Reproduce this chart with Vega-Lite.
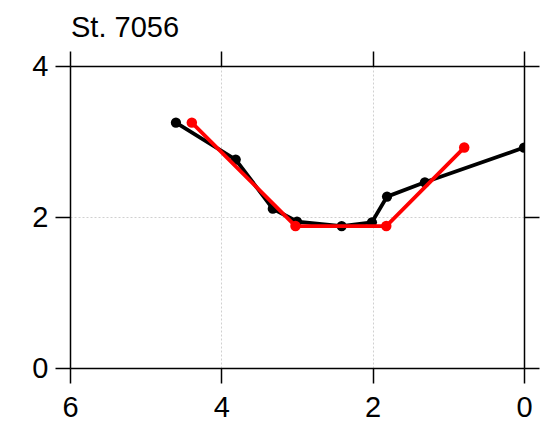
{
  "$schema": "https://vega.github.io/schema/vega-lite/v6.json",
  "autosize": "none",
  "width": 454,
  "height": 302,
  "padding": {"left": 70, "top": 66, "right": 26, "bottom": 57},
  "background": "white",
  "title": {"text": "St. 7056", "anchor": "start", "frame": "group", "font": "Liberation Sans", "fontSize": 29, "fontWeight": "normal", "color": "black", "offset": 7, "dx": 1},
  "config": {
    "view": {"stroke": null},
    "axis": {
      "domainColor": "black", "domainWidth": 1.5, "tickColor": "black", "tickWidth": 1.5, "tickSize": 15,
      "labelFont": "Liberation Sans", "labelFontSize": 29, "labelColor": "black", "labelPadding": 8,
      "gridColor": "#d0d0d0", "gridDash": [2, 2], "gridWidth": 1, "title": null, "labelFlush": false, "labelOverlap": false
    }
  },
  "data": {"values": [
    {"s": "black", "i": 1, "x": 4.60, "y": 3.25},
    {"s": "black", "i": 2, "x": 3.81, "y": 2.76},
    {"s": "black", "i": 3, "x": 3.32, "y": 2.11},
    {"s": "black", "i": 4, "x": 3.00, "y": 1.94},
    {"s": "black", "i": 5, "x": 2.41, "y": 1.88},
    {"s": "black", "i": 6, "x": 2.01, "y": 1.93},
    {"s": "black", "i": 7, "x": 1.81, "y": 2.27},
    {"s": "black", "i": 8, "x": 1.31, "y": 2.46},
    {"s": "black", "i": 9, "x": 0.0, "y": 2.92},
    {"s": "red", "i": 1, "x": 4.39, "y": 3.25},
    {"s": "red", "i": 2, "x": 3.02, "y": 1.88},
    {"s": "red", "i": 3, "x": 1.82, "y": 1.88},
    {"s": "red", "i": 4, "x": 0.79, "y": 2.92}
  ]},
  "resolve": {"axis": {"x": "independent", "y": "independent"}},
  "layer": [
    {
      "transform": [{"filter": "datum.s === 'black'"}],
      "mark": {"type": "line", "color": "black", "strokeWidth": 3.8, "clip": true},
      "encoding": {
        "x": {"field": "x", "type": "quantitative", "scale": {"domain": [6, 0], "nice": false}, "axis": {"orient": "top", "values": [0, 2, 4, 6], "labels": false, "grid": false}},
        "y": {"field": "y", "type": "quantitative", "scale": {"domain": [0, 4], "nice": false}, "axis": {"orient": "right", "values": [0, 2, 4], "labels": false, "grid": false}},
        "order": {"field": "i", "type": "quantitative"}
      }
    },
    {
      "transform": [{"filter": "datum.s === 'black'"}],
      "mark": {"type": "point", "filled": true, "shape": "circle", "color": "black", "size": 105, "opacity": 1, "clip": true},
      "encoding": {
        "x": {"field": "x", "type": "quantitative", "scale": {"domain": [6, 0], "nice": false}, "axis": {"orient": "bottom", "values": [0, 2, 4, 6], "grid": true, "labelPadding": 10}},
        "y": {"field": "y", "type": "quantitative", "scale": {"domain": [0, 4], "nice": false}, "axis": {"orient": "left", "values": [0, 2, 4], "grid": true, "labelPadding": 7}}
      }
    },
    {
      "transform": [{"filter": "datum.s === 'red'"}],
      "mark": {"type": "line", "color": "#ff0000", "strokeWidth": 3.8, "clip": true},
      "encoding": {
        "x": {"field": "x", "type": "quantitative", "scale": {"domain": [6, 0], "nice": false}, "axis": null},
        "y": {"field": "y", "type": "quantitative", "scale": {"domain": [0, 4], "nice": false}, "axis": null},
        "order": {"field": "i", "type": "quantitative"}
      }
    },
    {
      "transform": [{"filter": "datum.s === 'red'"}],
      "mark": {"type": "point", "filled": true, "shape": "circle", "color": "#ff0000", "size": 110, "opacity": 1, "clip": true},
      "encoding": {
        "x": {"field": "x", "type": "quantitative", "scale": {"domain": [6, 0], "nice": false}, "axis": null},
        "y": {"field": "y", "type": "quantitative", "scale": {"domain": [0, 4], "nice": false}, "axis": null}
      }
    }
  ]
}
